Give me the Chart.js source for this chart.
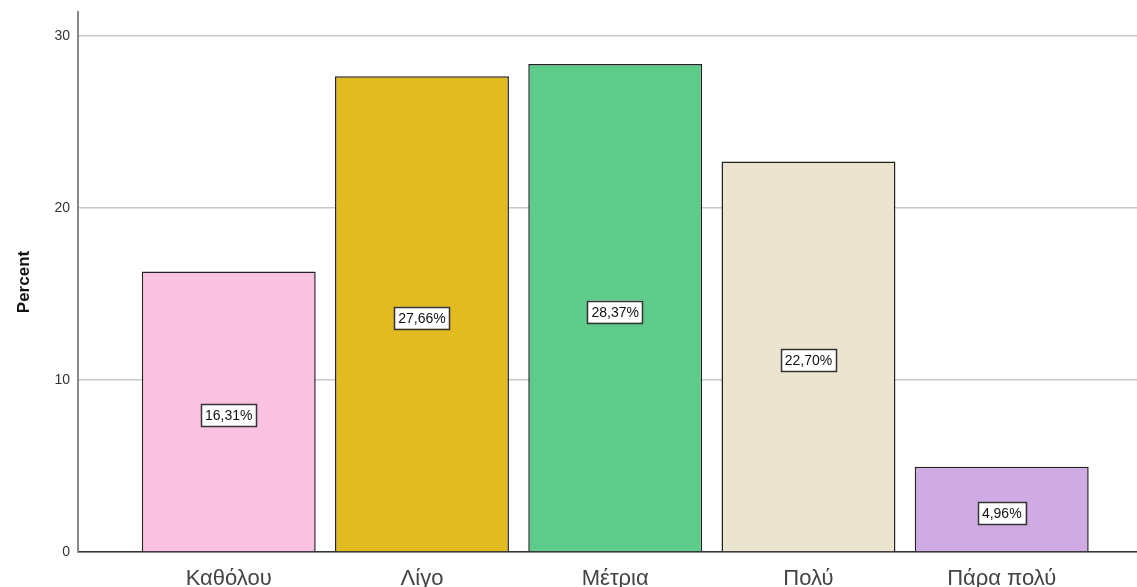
<!DOCTYPE html>
<html>
<head>
<meta charset="utf-8">
<script src="https://cdn.jsdelivr.net/npm/chart.js@4.4.0/dist/chart.umd.min.js"></script>
<style>
  html, body { margin: 0; padding: 0; background: #fff; }
  #wrap { width: 1137px; height: 587px; position: relative; }
</style>
</head>
<body>
<div id="wrap"><canvas id="myChart"></canvas></div>
<script>
// Chart data
const categories = ['Καθόλου', 'Λίγο', 'Μέτρια', 'Πολύ', 'Πάρα πολύ'];
const percents = [16.31, 27.66, 28.37, 22.70, 4.96];
const barLabels = ['16,31%', '27,66%', '28,37%', '22,70%', '4,96%'];
const yTicks = [0, 10, 20, 30];

const barColors = ['#fbc1e0', '#e1bb1f', '#5ecb8b', '#ebe4cf', '#d0aae3'];

// boxed value labels in the middle of each bar
const boxLabels = {
    id: 'boxLabels',
    afterDatasetsDraw(chart) {
        const ctx = chart.ctx;
        const meta = chart.getDatasetMeta(0);
        ctx.save();
        ctx.font = '14px Arial, "Liberation Sans", sans-serif';
        ctx.textAlign = 'center';
        ctx.textBaseline = 'middle';
        meta.data.forEach((bar, i) => {
            const txt = barLabels[i];
            const cx = bar.x;
            const cy = (bar.y + bar.base) / 2 + 4;
            const w = ctx.measureText(txt).width + 8;
            const h = 22;
            ctx.fillStyle = '#ffffff';
            ctx.fillRect(cx - w / 2, cy - h / 2, w, h);
            ctx.strokeStyle = '#333333';
            ctx.lineWidth = 1.5;
            ctx.strokeRect(Math.round(cx - w / 2) + 0.5, Math.round(cy - h / 2) + 0.5, Math.round(w), h);
            ctx.fillStyle = '#111111';
            ctx.fillText(txt, cx, cy + 1);
        });
        ctx.restore();
    }
};

const data = {
    datasets: [{
        label: 'Percent',
        data: percents.map((v, i) => ({ x: i, y: v })),
        backgroundColor: barColors,
        borderColor: '#222222',
        borderWidth: 1.5,
        categoryPercentage: 1,
        barPercentage: 0.9
    }]
};

const config = {
    type: 'bar',
    data: data,
    options: {
        responsive: true,
        maintainAspectRatio: false,
        animation: false,
        layout: { padding: { top: 12, left: 0, right: 0, bottom: 0 } },
        plugins: {
            legend: { display: false },
            tooltip: { enabled: false }
        },
        scales: {
            x: {
                type: 'linear',
                offset: false,
                min: -0.78,
                max: 4.70,
                grid: { display: false, drawTicks: false, offset: false },
                border: { color: '#333333', width: 1.5 },
                afterBuildTicks: (axis) => { axis.ticks = categories.map((c, i) => ({ value: i })); },
                afterFit: (axis) => { axis.height = 35; },
                ticks: {
                    autoSkip: false,
                    maxRotation: 0,
                    padding: 14,
                    color: '#444444',
                    font: { size: 22, family: 'Arial, "Liberation Sans", sans-serif' },
                    callback: (v) => categories[v] !== undefined ? categories[v] : ''
                }
            },
            y: {
                min: 0,
                max: 31.4,
                afterBuildTicks: (axis) => { axis.ticks = yTicks.map(v => ({ value: v })); },
                afterFit: (axis) => { axis.width = 78; axis.paddingTop = 0; },
                grid: { color: '#c8c8c8', lineWidth: 1.5, drawTicks: false },
                border: { color: '#888888', width: 2 },
                ticks: {
                    padding: 8,
                    color: '#333333',
                    font: { size: 14, family: 'Arial, "Liberation Sans", sans-serif' }
                },
                title: {
                    display: true,
                    text: 'Percent',
                    color: '#111111',
                    padding: { top: 14, bottom: 0 },
                    font: { size: 17, weight: 'bold', family: 'Arial, "Liberation Sans", sans-serif' }
                }
            }
        }
    },
    plugins: [boxLabels]
};

// Render the chart
var myChart = new Chart(document.getElementById('myChart'), config);
</script>
</body>
</html>
